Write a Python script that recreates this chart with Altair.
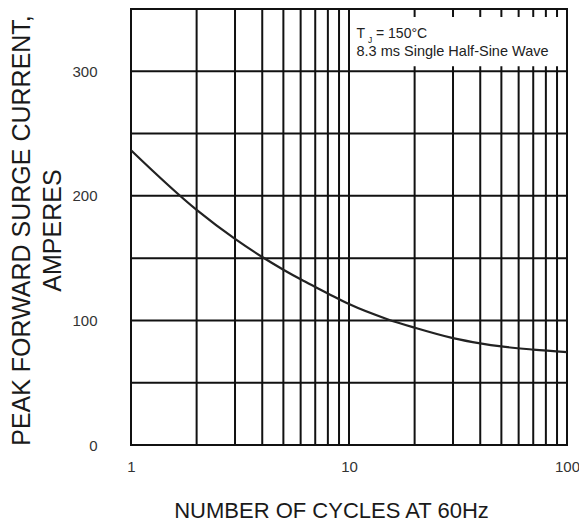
import altair as alt
import pandas as pd

# Curve
cycles = [1, 2, 3, 4, 5, 6, 7, 8, 10, 15, 20, 30, 40, 50, 70, 100]
current = [236.6, 188.7, 165.4, 150.9, 140.7, 133.0, 126.9, 121.7, 113.1, 101.0,
           94.2, 85.8, 81.6, 79.1, 76.6, 74.6]

# Grid and tick values
x_grid = [1, 2, 3, 4, 5, 6, 7, 8, 9, 10, 20, 30, 40, 50, 60, 70, 80, 90, 100]
y_grid = [0, 50, 100, 150, 200, 250, 300, 350]
x_ticks = [1, 10, 100]
y_ticks = [0, 100, 200, 300]

# Annotation
note_t = ["T"]
note_sub = ["J"]
note_rest = ["= 150°C"]
note_line2 = ["8.3 ms Single Half-Sine Wave"]

FONT = "Liberation Sans"
INK = "#1a1a1a"

xaxis = alt.Axis(values=x_ticks, format="d", grid=False, domain=False, ticks=False, tickSize=0,
                 labelPadding=14, labelFontSize=15, labelColor="#333", labelFont=FONT,
                 labelFlush=False,
                 title="NUMBER OF CYCLES AT 60Hz", titleFont=FONT, titleFontSize=22,
                 titleFontWeight="normal", titleColor=INK, titleX=200, titleY=72,
                 titleAlign="center", titleBaseline="alphabetic")
yaxis = alt.Axis(values=y_ticks, format="d", grid=False, domain=False, ticks=False, tickSize=0,
                 labelPadding=34, labelFontSize=15, labelColor="#333", labelFont=FONT,
                 labelFlush=False,
                 title=["PEAK FORWARD SURGE CURRENT,", "AMPERES"], titleFont=FONT,
                 titleFontSize=25, titleFontWeight="normal", titleColor=INK,
                 titleAngle=-90, titleX=-102, titleY=221, titleAlign="center",
                 titleBaseline="alphabetic", titleLineHeight=31)

xscale = alt.Scale(type="log", domain=[1, 100], nice=False)
yscale = alt.Scale(domain=[0, 350], nice=False, zero=False)

X = alt.X("x:Q", scale=xscale, axis=xaxis)
Y = alt.Y("y:Q", scale=yscale, axis=yaxis)

vgrid = alt.Chart(pd.DataFrame({"x": x_grid})).mark_rule(color="#111", strokeWidth=2).encode(x=X)
hgrid = alt.Chart(pd.DataFrame({"y": y_grid})).mark_rule(color="#111", strokeWidth=2).encode(y=Y)

box = alt.Chart(pd.DataFrame({"x": [10.15], "x2": [96], "y": [304], "y2": [343.5]})).mark_rect(
    color="white").encode(x=X, x2="x2:Q", y=Y, y2="y2:Q")

curve = alt.Chart(pd.DataFrame({"x": cycles, "y": current})).mark_line(
    color="#222", strokeWidth=2.2, interpolate="monotone").encode(x=X, y=Y)

def txt(df, size, **kw):
    return alt.Chart(df).mark_text(align="left", baseline="alphabetic", font=FONT,
                                   fontSize=size, color="#222", **kw).encode(x=X, y=Y, text="t:N")

t1 = txt(pd.DataFrame({"x": [10.82], "y": [326.7], "t": note_t}), 14)
t2 = txt(pd.DataFrame({"x": [12.22], "y": [323.1], "t": note_sub}), 8.5)
t3 = txt(pd.DataFrame({"x": [13.30], "y": [326.7], "t": note_rest}), 14)
t4 = txt(pd.DataFrame({"x": [10.82], "y": [312.3], "t": note_line2}), 14.5)

chart = alt.layer(vgrid, hgrid, box, curve, t1, t2, t3, t4).properties(
    width=436, height=436,
    autosize=alt.AutoSizeParams(type="none"),
    padding={"left": 123, "top": 1, "right": 12, "bottom": 80},
).configure_view(stroke="#111", strokeWidth=2)

chart.save("out.html", embed_options={"renderer": "svg", "actions": False})
